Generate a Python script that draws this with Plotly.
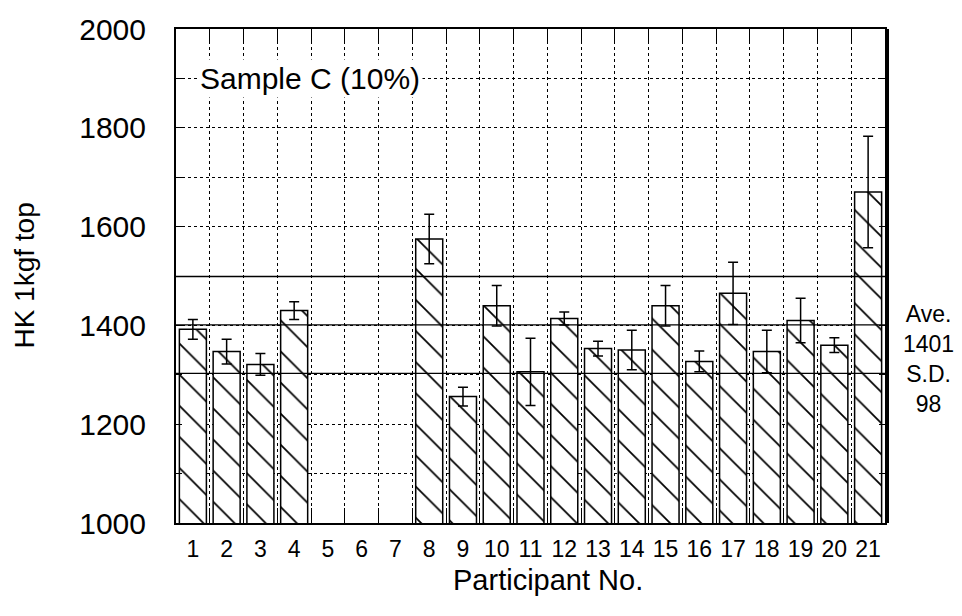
import plotly.graph_objects as go

# Knoop hardness (HK 1kgf, top face) per participant, Sample C (10%)
participants = list(range(1, 22))
tick_labels = [str(p) for p in participants]
hk_mean = [1392, 1347, 1321, 1430, None, None, None, 1575, 1256, 1440, 1306,
           1414, 1353, 1350, 1440, 1327, 1465, 1347, 1410, 1360, 1670]
hk_sd = [20, 25, 22, 18, None, None, None, 50, 19, 41, 68,
         13, 15, 40, 41, 21, 63, 43, 45, 15, 113]
y_tick_vals = list(range(1000, 2001, 100))
y_tick_text = [str(v) if v % 200 == 0 else "" for v in y_tick_vals]
slot_edges = [p - 0.5 for p in participants] + [participants[-1] + 0.5]

AVE = 1401
SD = 98

FONT = "Liberation Sans, Arial, Helvetica, sans-serif"

fig = go.Figure()

fig.add_trace(go.Bar(
    x=participants,
    y=hk_mean,
    width=0.8,
    marker=dict(
        color="white",
        line=dict(color="black", width=1.5),
        pattern=dict(shape="\\", size=22, solidity=0.08,
                     fgcolor="black", bgcolor="white", fillmode="replace"),
    ),
    error_y=dict(type="data", array=hk_sd, visible=True,
                 color="black", thickness=1.5, width=5),
    showlegend=False,
    hoverinfo="skip",
))

# invisible trace carrying the participant-number axis and the heavy right frame
fig.add_trace(go.Scatter(
    x=participants, y=hk_mean, xaxis="x2", yaxis="y2", mode="markers",
    marker=dict(opacity=0), showlegend=False, hoverinfo="skip",
))

# average and +/- one standard deviation
for level in (AVE - SD, AVE, AVE + SD):
    fig.add_hline(y=level, line=dict(color="black", width=1.3), layer="above")

fig.update_layout(
    width=962, height=616,
    margin=dict(l=176, r=77, t=26, b=93),
    paper_bgcolor="white", plot_bgcolor="white",
    font=dict(family=FONT, color="black"),
    bargap=0.2,
    xaxis=dict(
        range=[0.5, 21.5],
        tickmode="array", tickvals=slot_edges,
        showticklabels=False,
        ticks="inside", ticklen=15, tickwidth=1.3, tickcolor="black",
        showgrid=True, gridcolor="black", gridwidth=1, griddash="dot",
        showline=True, linecolor="black", linewidth=2, mirror="ticks",
        zeroline=False,
    ),
    xaxis2=dict(
        overlaying="x", matches="x", anchor="y", side="bottom",
        tickmode="array", tickvals=participants, ticktext=tick_labels,
        ticks="", showgrid=False, showline=False, zeroline=False,
        tickfont=dict(size=23), ticklabelstandoff=10,
    ),
    yaxis=dict(
        range=[1000, 2000],
        tickmode="array", tickvals=y_tick_vals, ticktext=y_tick_text,
        ticks="inside", ticklen=6, tickwidth=1.3, tickcolor="black",
        tickfont=dict(size=30), ticklabelstandoff=22,
        showgrid=True, gridcolor="black", gridwidth=1, griddash="dot",
        showline=True, linecolor="black", linewidth=2, mirror="ticks",
        zeroline=False,
    ),
    yaxis2=dict(
        overlaying="y", matches="y", anchor="x", side="right",
        showticklabels=False, ticks="", showgrid=False, zeroline=False,
        showline=True, linecolor="black", linewidth=4,
    ),
    annotations=[
        dict(text="Sample C (10%)", xref="paper", yref="y",
             x=0.03, y=1900, xanchor="left", yanchor="middle",
             showarrow=False, bgcolor="white", borderpad=2,
             font=dict(size=30)),
        dict(text=f"Ave.<br>{AVE}<br>S.D.<br>{SD}", xref="paper", yref="y",
             x=1.062, y=1331, xanchor="center", yanchor="middle",
             showarrow=False, align="center", font=dict(size=23)),
        dict(text="HK 1kgf top", xref="paper", yref="paper",
             x=-0.215, y=0.5, xanchor="center", yanchor="middle",
             textangle=-90, showarrow=False, font=dict(size=28)),
        dict(text="Participant No.", xref="paper", yref="paper",
             x=0.525, y=-0.115, xanchor="center", yanchor="middle",
             showarrow=False, font=dict(size=29)),
    ],
)

fig.write_html("out.html")
